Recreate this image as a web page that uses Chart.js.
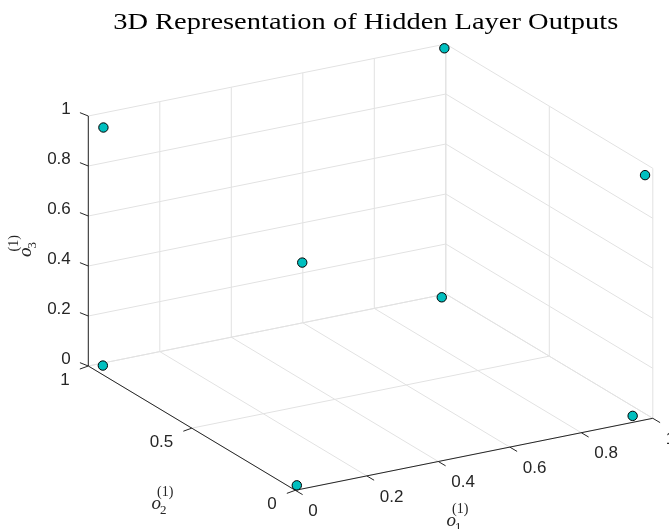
<!DOCTYPE html>
<html>
<head>
<meta charset="utf-8">
<script src="https://cdn.jsdelivr.net/npm/chart.js@4"></script>
<style>
  html, body { margin: 0; padding: 0; background: #ffffff; }
  #wrap { width: 669px; height: 529px; }
</style>
</head>
<body>
<div id="wrap"><canvas id="c" width="669" height="529"></canvas></div>
<script>
// Hidden-layer activations (three units) for the eight input patterns
const o1Values = [0.010, 0.032, 0.022, 0.996, 0.987, 0.961, 0.031, 0.980];
const o2Values = [0.010, 0.985, 0.965, 1.000, 0.015, 0.030, 0.020, 0.985];
const o3Values = [0.012, 0.000, 0.965, 0.984, 0.969, 0.006, 0.892, 0.000];

// Axis ticks and their labels
const o1Ticks = [0, 0.2, 0.4, 0.6, 0.8, 1];
const o2Ticks = [0, 0.5, 1];
const o3Ticks = [0, 0.2, 0.4, 0.6, 0.8, 1];
const o1TickLabels = ['0', '0.2', '0.4', '0.6', '0.8', '1'];
const o2TickLabels = ['0', '0.5', '1'];
const o3TickLabels = ['0', '0.2', '0.4', '0.6', '0.8', '1'];
const titleText = '3D Representation of Hidden Layer Outputs';

// Orthographic view of the unit cube (az/el style camera), expressed as
// the projected origin and the projected unit vector of each axis.
const view = {
  origin: [295.3, 490.3],
  e1: [357.5, -72.0],
  e2: [-207.0, -124.3],
  e3: [0, -250.0]
};

function project(a, b, c) {
  return {
    x: view.origin[0] + a * view.e1[0] + b * view.e2[0] + c * view.e3[0],
    y: view.origin[1] + a * view.e1[1] + b * view.e2[1] + c * view.e3[1]
  };
}

const points = o1Values.map((a, i) => project(a, o2Values[i], o3Values[i]));

const AXIS_COLOR = '#262626';
const GRID_COLOR = '#e2e2e2';
const TICK_FONT = '17px "Liberation Sans", Arial, sans-serif';
const SERIF = '"Liberation Serif", "Times New Roman", serif';

// o_k^{(1)} axis symbol
function drawOSymbol(ctx, x, y, sub) {
  ctx.save();
  ctx.fillStyle = AXIS_COLOR;
  ctx.textAlign = 'left';
  ctx.textBaseline = 'alphabetic';
  ctx.font = 'italic 19px ' + SERIF;
  ctx.fillText('o', x, y);
  const w = ctx.measureText('o').width;
  ctx.font = '13px ' + SERIF;
  ctx.fillText(sub, x + w - 1, y + 5);
  ctx.font = '14px ' + SERIF;
  ctx.fillText('(1)', x + w - 4, y - 13);
  ctx.restore();
}

const cubePlugin = {
  id: 'cube3d',
  beforeDatasetsDraw(chart) {
    const ctx = chart.ctx;
    const xs = chart.scales.x, ys = chart.scales.y;
    const px = (a, b, c) => {
      const p = project(a, b, c);
      return [xs.getPixelForValue(p.x), ys.getPixelForValue(p.y)];
    };
    const line = (p, q) => {
      ctx.beginPath();
      ctx.moveTo(p[0], p[1]);
      ctx.lineTo(q[0], q[1]);
      ctx.stroke();
    };

    ctx.save();
    // grid: floor (o3 = 0)
    ctx.strokeStyle = GRID_COLOR;
    ctx.lineWidth = 1;
    o1Ticks.forEach(a => line(px(a, 0, 0), px(a, 1, 0)));
    o2Ticks.forEach(b => line(px(0, b, 0), px(1, b, 0)));
    // back wall o2 = 1
    o1Ticks.forEach(a => line(px(a, 1, 0), px(a, 1, 1)));
    o3Ticks.forEach(c => line(px(0, 1, c), px(1, 1, c)));
    // back wall o1 = 1
    o2Ticks.forEach(b => line(px(1, b, 0), px(1, b, 1)));
    o3Ticks.forEach(c => line(px(1, 0, c), px(1, 1, c)));

    // axis lines
    ctx.strokeStyle = AXIS_COLOR;
    ctx.lineWidth = 1;
    line(px(0, 0, 0), px(1, 0, 0));
    line(px(0, 0, 0), px(0, 1, 0));
    line(px(0, 1, 0), px(0, 1, 1));

    // tick marks
    o1Ticks.forEach(a => {
      const p = px(a, 0, 0);
      line(p, [p[0] + 0.86 * 8.5, p[1] + 0.51 * 8.5]);
    });
    o2Ticks.forEach(b => {
      const p = px(0, b, 0);
      line(p, [p[0] - 0.94 * 9, p[1] + 0.34 * 9]);
    });
    o3Ticks.forEach(c => {
      const p = px(0, 1, c);
      line(p, [p[0] - 0.93 * 9, p[1] - 0.37 * 9]);
    });

    // tick labels
    ctx.fillStyle = AXIS_COLOR;
    ctx.font = TICK_FONT;
    ctx.textBaseline = 'middle';
    ctx.textAlign = 'left';
    o1Ticks.forEach((a, i) => {
      const p = px(a, 0, 0);
      ctx.fillText(o1TickLabels[i], p[0] + 13, p[1] + 21);
    });
    ctx.textAlign = 'right';
    o2Ticks.forEach((b, i) => {
      const p = px(0, b, 0);
      ctx.fillText(o2TickLabels[i], p[0] - 18.5, p[1] + 14);
    });
    o3Ticks.forEach((c, i) => {
      const p = px(0, 1, c);
      ctx.fillText(o3TickLabels[i], p[0] - 17.5, p[1] - 7);
    });

    // axis titles
    drawOSymbol(ctx, 446.5, 526, '1');
    drawOSymbol(ctx, 151.5, 509, '2');
    ctx.save();
    ctx.translate(31, 257);
    ctx.rotate(-Math.PI / 2);
    drawOSymbol(ctx, 0, 0, '3');
    ctx.restore();

    // chart title, stretched horizontally to its set width
    ctx.textAlign = 'center';
    ctx.textBaseline = 'alphabetic';
    ctx.font = '24px ' + SERIF;
    const tw = ctx.measureText(titleText).width;
    ctx.fillStyle = '#000000';
    ctx.save();
    ctx.translate(365.7, 28.5);
    ctx.scale(505 / tw, 1);
    ctx.fillText(titleText, 0, 0);
    ctx.restore();
    ctx.restore();
  }
};

new Chart(document.getElementById('c'), {
  type: 'scatter',
  data: {
    datasets: [{
      label: 'hidden outputs',
      data: points,
      pointRadius: 4.7,
      pointBackgroundColor: '#00bfbf',
      pointBorderColor: '#000000',
      pointBorderWidth: 1,
      clip: false
    }]
  },
  options: {
    responsive: false,
    animation: false,
    events: [],
    layout: { padding: 0, autoPadding: false },
    plugins: { legend: { display: false }, tooltip: { enabled: false }, title: { display: false } },
    scales: {
      x: { type: 'linear', display: false, min: 0, max: 669 },
      y: { type: 'linear', display: false, min: 0, max: 529, reverse: true }
    }
  },
  plugins: [cubePlugin]
});
</script>
</body>
</html>
